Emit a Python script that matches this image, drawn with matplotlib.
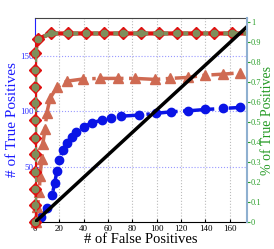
import matplotlib.pyplot as plt
import numpy as np

plt.rcParams['font.family'] = ['Liberation Serif', 'DejaVu Serif']

# Data
total_pos = 180

fp_diamond = [0, 0, 0, 0, 0, 0, 0, 0, 0, 0, 0, 2.2, 13, 27, 42, 57, 72, 87, 102, 117, 132, 147, 162, 176]
tp_diamond = [0, 15, 30, 45, 61, 76, 92, 107, 122, 137, 152, 165, 170, 170, 170, 170, 170, 170, 170, 170, 170, 170, 170, 170]

fp_tri = [0.5, 1.9, 3.5, 4.1, 5.5, 6.3, 8.2, 9.6, 12.3, 17.8, 26, 39.6, 53, 68, 82, 98.6, 111, 126, 139.6, 154, 168]
tp_tri = [0, 13.5, 27, 42, 57, 70, 84, 98, 111.5, 121.4, 127, 129, 129.5, 129.5, 129.5, 128.6, 129.5, 130.4, 132.4, 133.3, 134.5]

fp_blue = [0, 5, 10, 14, 16, 18, 20, 23, 26, 30, 34, 40, 47, 55, 62, 71, 85, 99, 112, 126, 140, 154, 168]
tp_blue = [0, 5, 13, 24, 35, 46, 56, 65, 71, 77, 81, 86, 89.5, 92, 94, 95.5, 96.4, 98, 99.4, 100.3, 101.5, 102.4, 103.3]

fp_diag = [0, 176]
tp_diag = [0, 178]

xticks = [0, 20, 40, 60, 80, 100, 120, 140, 160]
yticks_left = [0, 50, 100, 150]
yticks_right = [0, 0.1, 0.2, 0.3, 0.4, 0.5, 0.6, 0.7, 0.8, 0.9, 1]

fig = plt.figure(figsize=(2.74, 2.49), dpi=100)
ax = fig.add_axes([0.128, 0.108, 0.773, 0.82])

xmax = 174
ymax = 184
ax.set_xlim(0, xmax)
ax.set_ylim(0, ymax)

for x in xticks[1:]:
    ax.axvline(x, color='#bbbbbb', linestyle=':', linewidth=0.8, zorder=0)
for y in yticks_left[1:]:
    ax.axhline(y, color='#9999ff', linestyle=':', linewidth=0.8, zorder=0)

ax.plot(fp_blue, tp_blue, color='#0a14e6', linestyle='-.', linewidth=2.5,
        marker='o', markersize=6, markeredgecolor='#0a14e6', zorder=3, clip_on=False)
ax.plot(fp_tri, tp_tri, color='#cf6a52', linestyle='-.', linewidth=2.5,
        marker='^', markersize=7.5, markeredgecolor='#cf6a52', zorder=3, clip_on=False)
ax.plot(fp_diamond[:-1], tp_diamond[:-1], linestyle='none',
        marker='D', markersize=6, markerfacecolor='#e01010', markeredgecolor='#e01010',
        zorder=4, clip_on=False)
ax.plot(fp_diamond, tp_diamond, color='#e01010', linestyle='-', linewidth=3, zorder=4)
ax.plot(fp_diamond, tp_diamond, color='#7e8f5c', linestyle=(0, (1.2, 1.2)), linewidth=3, zorder=5)
ax.plot(fp_diamond[:-1], tp_diamond[:-1], linestyle='none',
        marker='o', markersize=4.5, markerfacecolor='#7e8f5c', markeredgecolor='#7e8f5c',
        zorder=5, clip_on=False)
ax.plot(fp_diag, tp_diag, color='black', linewidth=2.5, zorder=6)

ax.set_xticks(xticks)
ax.set_yticks(yticks_left)
ax.tick_params(axis='x', labelsize=6.5, direction='in', length=2, pad=2)
ax.tick_params(axis='y', labelsize=6.5, colors='#3333ff', direction='in', length=2, pad=1)
ax.spines['left'].set_color('#2222ff')
ax.spines['top'].set_color('#444444')
ax.spines['right'].set_visible(False)

ax.set_xlabel('# of False Positives', fontsize=10.5, labelpad=0)
ax.set_ylabel('# of True Positives', fontsize=11, color='#1a1aff')
ax.yaxis.set_label_coords(-0.075, 0.5)

ax2 = ax.twinx()
ax2.set_ylim(0, ymax / total_pos)
ax2.set_yticks(yticks_right)
ax2.set_yticklabels(['0', '0.1', '0.2', '0.3', '0.4', '0.5', '0.6', '0.7', '0.8', '0.9', '1'])
ax2.tick_params(axis='y', labelsize=6, colors='#2ea02e', direction='out', length=2, pad=1)
ax2.spines['right'].set_color('#8fb0d0')
ax2.spines['right'].set_linewidth(1.5)
for s in ['left', 'top', 'bottom']:
    ax2.spines[s].set_visible(False)
ax2.set_ylabel('% of True Positives', fontsize=10, color='#229922', rotation=90)
ax2.yaxis.set_label_coords(1.068, 0.5)

fig.savefig('out.png', dpi=100)
